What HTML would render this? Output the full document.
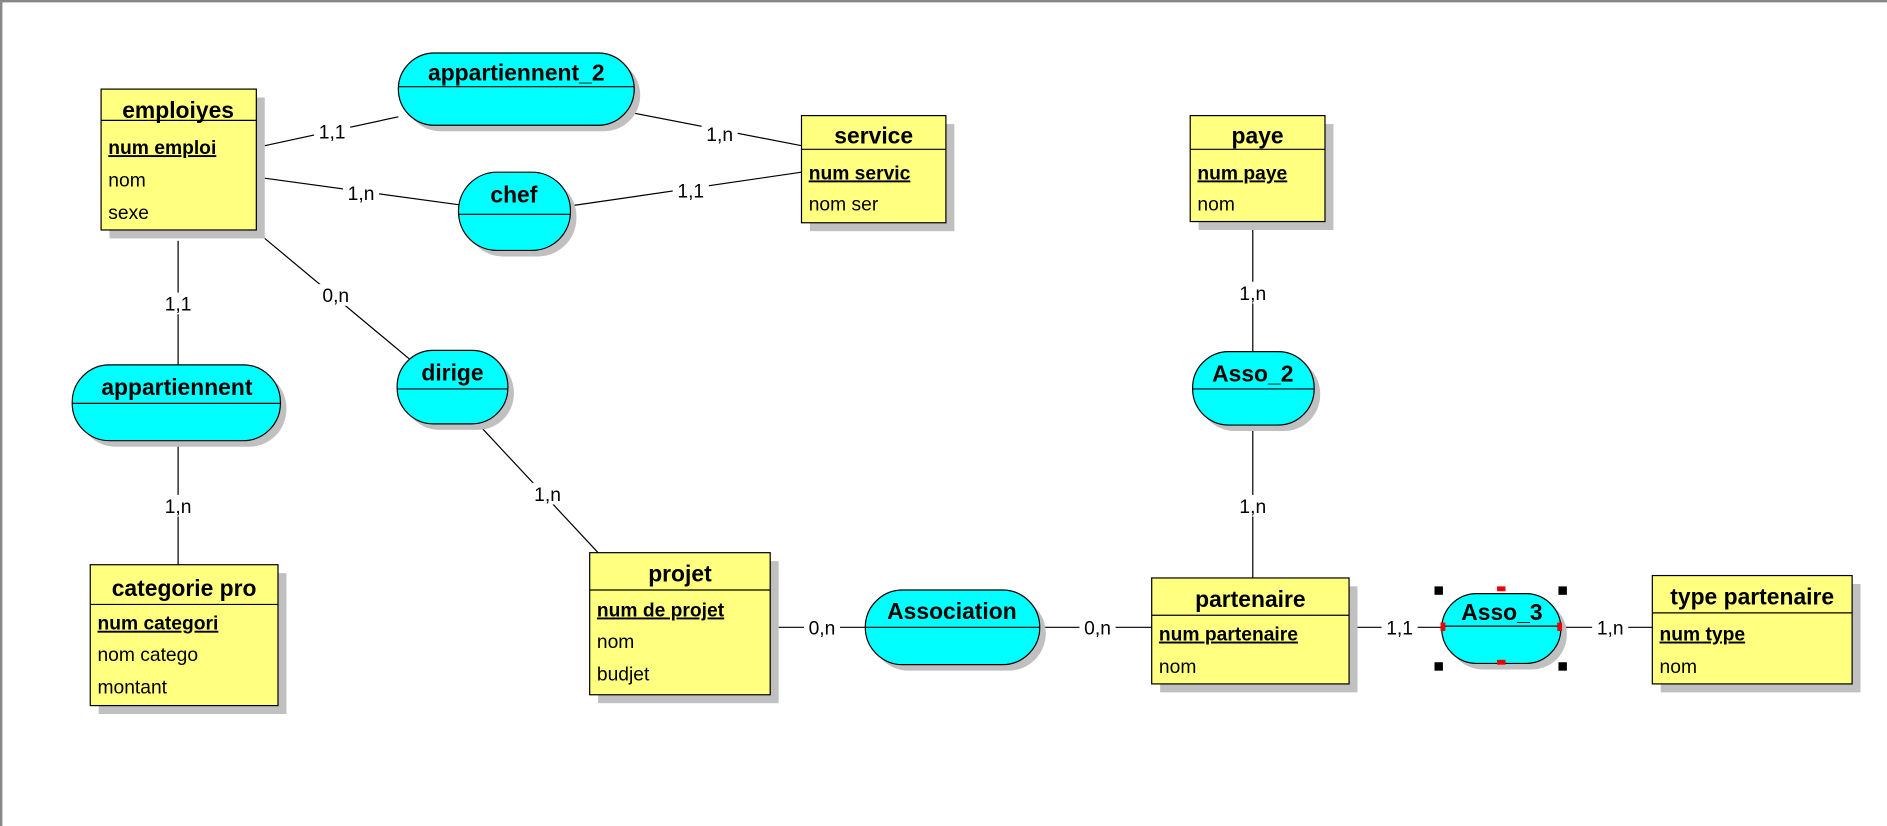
<!DOCTYPE html>
<html><head><meta charset="utf-8"><style>
html,body{margin:0;padding:0;background:#fff;}
svg{display:block;}
text{font-family:"Liberation Sans","DejaVu Sans",sans-serif;fill:#000;}
.t{font-weight:bold;font-size:19px;text-anchor:middle;}
.k{font-weight:bold;font-size:16px;text-decoration:underline;}
.a{font-size:16px;}
.l{font-size:16px;text-anchor:middle;}
</style></head><body>
<svg width="1887" height="826" viewBox="0 0 1568 686" preserveAspectRatio="none" xmlns="http://www.w3.org/2000/svg">
<rect x="0" y="0" width="1568" height="686" fill="#fff"/>
<line x1="0" y1="1" x2="1568" y2="1" stroke="#888" stroke-width="2"/>
<line x1="1" y1="0" x2="1" y2="686" stroke="#888" stroke-width="2"/>

<g stroke="#000" stroke-width="1">
<line x1="220" y1="121" x2="331" y2="97"/>
<line x1="527" y1="94" x2="666" y2="121"/>
<line x1="220" y1="148" x2="381" y2="170"/>
<line x1="474" y1="171" x2="666" y2="143"/>
<line x1="148" y1="200" x2="148" y2="303"/>
<line x1="220" y1="198" x2="340" y2="298"/>
<line x1="148" y1="368" x2="148" y2="469"/>
<line x1="400" y1="355" x2="497" y2="459"/>
<line x1="647" y1="521" x2="719" y2="521"/>
<line x1="864" y1="521" x2="957" y2="521"/>
<line x1="1128" y1="521" x2="1198" y2="521"/>
<line x1="1297" y1="521" x2="1373" y2="521"/>
<line x1="1041" y1="190" x2="1041" y2="292"/>
<line x1="1041" y1="356" x2="1041" y2="480"/>
</g>
<g>
<rect x="261" y="100" width="30" height="18" fill="#fff"/><text class="l" x="276" y="115">1,1</text>
<rect x="583" y="102" width="30" height="18" fill="#fff"/><text class="l" x="598" y="117">1,n</text>
<rect x="285" y="151" width="30" height="18" fill="#fff"/><text class="l" x="300" y="166">1,n</text>
<rect x="559" y="149" width="30" height="18" fill="#fff"/><text class="l" x="574" y="164">1,1</text>
<rect x="133" y="243" width="30" height="18" fill="#fff"/><text class="l" x="148" y="258">1,1</text>
<rect x="264" y="236" width="30" height="18" fill="#fff"/><text class="l" x="279" y="251">0,n</text>
<rect x="133" y="411" width="30" height="18" fill="#fff"/><text class="l" x="148" y="426">1,n</text>
<rect x="440" y="401" width="30" height="18" fill="#fff"/><text class="l" x="455" y="416">1,n</text>
<rect x="668" y="512" width="30" height="18" fill="#fff"/><text class="l" x="683" y="527">0,n</text>
<rect x="897" y="512" width="30" height="18" fill="#fff"/><text class="l" x="912" y="527">0,n</text>
<rect x="1148" y="512" width="30" height="18" fill="#fff"/><text class="l" x="1163" y="527">1,1</text>
<rect x="1323" y="512" width="30" height="18" fill="#fff"/><text class="l" x="1338" y="527">1,n</text>
<rect x="1026" y="234" width="30" height="18" fill="#fff"/><text class="l" x="1041" y="249">1,n</text>
<rect x="1026" y="411" width="30" height="18" fill="#fff"/><text class="l" x="1041" y="426">1,n</text>
</g>

<g>
<rect x="91" y="81" width="129" height="117" fill="#c0c0c0"/>
<rect x="84" y="74" width="129" height="117" fill="#ffff80" stroke="#000"/>
<line x1="84" y1="100" x2="213" y2="100" stroke="#000"/>
<text class="t" x="148" y="98">emploiyes</text>
<text class="k" x="90" y="128">num emploi</text>
<text class="a" x="90" y="155">nom</text>
<text class="a" x="90" y="182">sexe</text>

<rect x="673" y="103" width="120" height="89" fill="#c0c0c0"/>
<rect x="666" y="96" width="120" height="89" fill="#ffff80" stroke="#000"/>
<line x1="666" y1="124" x2="786" y2="124" stroke="#000"/>
<text class="t" x="726" y="119">service</text>
<text class="k" x="672" y="149">num servic</text>
<text class="a" x="672" y="175">nom ser</text>

<rect x="996" y="103" width="112" height="88" fill="#c0c0c0"/>
<rect x="989" y="96" width="112" height="88" fill="#ffff80" stroke="#000"/>
<line x1="989" y1="124" x2="1101" y2="124" stroke="#000"/>
<text class="t" x="1045" y="119">paye</text>
<text class="k" x="995" y="149">num paye</text>
<text class="a" x="995" y="175">nom</text>

<rect x="82" y="476" width="156" height="117" fill="#c0c0c0"/>
<rect x="75" y="469" width="156" height="117" fill="#ffff80" stroke="#000"/>
<line x1="75" y1="502" x2="231" y2="502" stroke="#000"/>
<text class="t" x="153" y="495">categorie pro</text>
<text class="k" x="81" y="523">num categori</text>
<text class="a" x="81" y="549">nom catego</text>
<text class="a" x="81" y="576">montant</text>

<rect x="497" y="466" width="150" height="118" fill="#c0c0c0"/>
<rect x="490" y="459" width="150" height="118" fill="#ffff80" stroke="#000"/>
<line x1="490" y1="490" x2="640" y2="490" stroke="#000"/>
<text class="t" x="565" y="483">projet</text>
<text class="k" x="496" y="512">num de projet</text>
<text class="a" x="496" y="538">nom</text>
<text class="a" x="496" y="565">budjet</text>

<rect x="964" y="487" width="164" height="88" fill="#c0c0c0"/>
<rect x="957" y="480" width="164" height="88" fill="#ffff80" stroke="#000"/>
<line x1="957" y1="511" x2="1121" y2="511" stroke="#000"/>
<text class="t" x="1039" y="504">partenaire</text>
<text class="k" x="963" y="532">num partenaire</text>
<text class="a" x="963" y="559">nom</text>

<rect x="1380" y="485" width="166" height="90" fill="#c0c0c0"/>
<rect x="1373" y="478" width="166" height="90" fill="#ffff80" stroke="#000"/>
<line x1="1373" y1="509" x2="1539" y2="509" stroke="#000"/>
<text class="t" x="1456" y="502">type partenaire</text>
<text class="k" x="1379" y="532">num type</text>
<text class="a" x="1379" y="559">nom</text>
</g>

<g>
<rect x="336" y="49" width="196" height="60" rx="30" fill="#c0c0c0"/>
<rect x="331" y="44" width="196" height="60" rx="30" fill="#00ffff" stroke="#000"/>
<line x1="331" y1="72" x2="527" y2="72" stroke="#000"/>
<text class="t" x="429" y="67">appartiennent_2</text>

<rect x="386" y="148" width="93" height="65" rx="32" fill="#c0c0c0"/>
<rect x="381" y="143" width="93" height="65" rx="32" fill="#00ffff" stroke="#000"/>
<line x1="381" y1="178" x2="474" y2="178" stroke="#000"/>
<text class="t" x="427" y="168">chef</text>

<rect x="65" y="308" width="173" height="63" rx="31" fill="#c0c0c0"/>
<rect x="60" y="303" width="173" height="63" rx="31" fill="#00ffff" stroke="#000"/>
<line x1="60" y1="335" x2="233" y2="335" stroke="#000"/>
<text class="t" x="147" y="328">appartiennent</text>

<rect x="335" y="296" width="92" height="61" rx="30" fill="#c0c0c0"/>
<rect x="330" y="291" width="92" height="61" rx="30" fill="#00ffff" stroke="#000"/>
<line x1="330" y1="323" x2="422" y2="323" stroke="#000"/>
<text class="t" x="376" y="316">dirige</text>

<rect x="996" y="297" width="101" height="61" rx="30" fill="#c0c0c0"/>
<rect x="991" y="292" width="101" height="61" rx="30" fill="#00ffff" stroke="#000"/>
<line x1="991" y1="323" x2="1092" y2="323" stroke="#000"/>
<text class="t" x="1041" y="317">Asso_2</text>

<rect x="724" y="495" width="145" height="62" rx="31" fill="#c0c0c0"/>
<rect x="719" y="490" width="145" height="62" rx="31" fill="#00ffff" stroke="#000"/>
<line x1="719" y1="521" x2="864" y2="521" stroke="#000"/>
<text class="t" x="791" y="514">Association</text>

<rect x="1203" y="498" width="99" height="58" rx="29" fill="#c0c0c0"/>
<rect x="1198" y="493" width="99" height="58" rx="29" fill="#00ffff" stroke="#000"/>
<line x1="1198" y1="520" x2="1297" y2="520" stroke="#000"/>
<text class="t" x="1248" y="515">Asso_3</text>
<g fill="#000">
<rect x="1192" y="487" width="7" height="7"/><rect x="1295" y="487" width="7" height="7"/>
<rect x="1192" y="550" width="7" height="7"/><rect x="1295" y="550" width="7" height="7"/>
</g>
<g fill="#e00">
<rect x="1244" y="487" width="7" height="4"/><rect x="1244" y="548" width="7" height="4"/>
<rect x="1197" y="517" width="4" height="7"/><rect x="1294" y="517" width="4" height="7"/>
</g>
</g>
</svg>
</body></html>
